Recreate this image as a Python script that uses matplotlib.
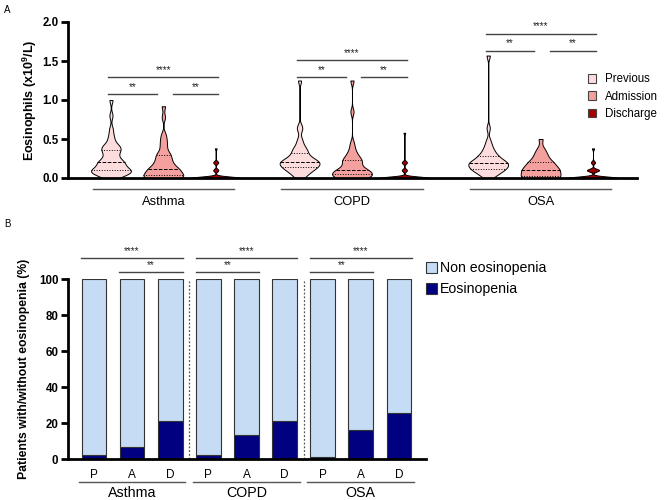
import matplotlib
matplotlib.use("Agg")
import matplotlib.pyplot as plt
import numpy as np

plt.rcParams['font.family'] = ['Liberation Sans', 'DejaVu Sans']
plt.rcParams['mathtext.fontset'] = 'custom'
plt.rcParams['mathtext.bf'] = 'Liberation Sans:bold'

# ---------------- data ----------------
diseases = ["Asthma", "COPD", "OSA"]
timepoints = ["Previous", "Admission", "Discharge"]
tp_short = ["P", "A", "D"]

# panel A: eosinophil counts (x10^9/L)
asthma_prev = [0.0, 0.02, 0.03, 0.05, 0.05, 0.06, 0.07, 0.08, 0.08, 0.09, 0.1, 0.1, 0.1, 0.11,
               0.12, 0.13, 0.15, 0.17, 0.18, 0.2, 0.2, 0.2, 0.21, 0.23, 0.25, 0.28, 0.3, 0.32,
               0.35, 0.36, 0.38, 0.39, 0.4, 0.42, 0.45, 0.5, 0.55, 0.63, 0.8, 1.0]
asthma_adm = [0, 0, 0, 0, 0, 0.01, 0.02, 0.02, 0.03, 0.05, 0.05, 0.06, 0.08, 0.1, 0.1, 0.1,
              0.12, 0.12, 0.13, 0.15, 0.17, 0.2, 0.2, 0.22, 0.25, 0.28, 0.3, 0.3, 0.35, 0.4,
              0.45, 0.5, 0.56, 0.78, 0.92]
asthma_dis = [0] * 30 + [0.1, 0.1, 0.1, 0.2, 0.2, 0.2, 0.38]
copd_prev = [0.0, 0.02, 0.05, 0.07, 0.08, 0.1, 0.1, 0.12, 0.13, 0.14, 0.15, 0.15, 0.16, 0.17,
             0.18, 0.19, 0.2, 0.2, 0.2, 0.21, 0.22, 0.23, 0.24, 0.25, 0.26, 0.28, 0.3, 0.32,
             0.34, 0.36, 0.38, 0.4, 0.45, 0.5, 0.62, 0.66, 1.25]
copd_adm = [0, 0, 0, 0, 0.01, 0.02, 0.03, 0.04, 0.05, 0.05, 0.06, 0.07, 0.08, 0.09, 0.1, 0.1,
            0.11, 0.12, 0.14, 0.17, 0.2, 0.2, 0.22, 0.23, 0.25, 0.27, 0.3, 0.33, 0.38,
            0.45, 0.85, 1.25]
copd_dis = [0] * 30 + [0.1, 0.1, 0.1, 0.2, 0.2, 0.2, 0.58]
osa_prev = [0.0, 0.03, 0.05, 0.07, 0.08, 0.1, 0.1, 0.11, 0.12, 0.13, 0.14, 0.15, 0.16, 0.17,
            0.18, 0.18, 0.19, 0.2, 0.2, 0.21, 0.22, 0.24, 0.25, 0.27, 0.28, 0.3, 0.32, 0.35,
            0.38, 0.42, 0.48, 0.64, 1.57]
osa_adm = [0, 0, 0, 0, 0, 0.01, 0.02, 0.03, 0.05, 0.07, 0.08, 0.1, 0.1, 0.1, 0.1, 0.12, 0.14,
           0.15, 0.17, 0.18, 0.2, 0.2, 0.22, 0.25, 0.28, 0.3, 0.34, 0.38, 0.5]
osa_dis = [0] * 25 + [0.1] * 6 + [0.2] * 2 + [0.38]

violin_data = [asthma_prev, asthma_adm, asthma_dis,
               copd_prev, copd_adm, copd_dis,
               osa_prev, osa_adm, osa_dis]

# panel A significance: (disease, from tp, to tp, label)
sig_a = [(0, 0, 2, "****"), (0, 0, 1, "**"), (0, 1, 2, "**"),
         (1, 0, 2, "****"), (1, 0, 1, "**"), (1, 1, 2, "**"),
         (2, 0, 2, "****"), (2, 0, 1, "**"), (2, 1, 2, "**")]

# panel B: % of patients with eosinopenia
eosinopenia = [2.4, 6.7, 21.2, 2.2, 13.4, 21.3, 1.0, 16.0, 25.8]
non_eosinopenia = [100 - v for v in eosinopenia]
sig_b = [(0, 0, 2, "****"), (0, 1, 2, "**"),
         (1, 0, 2, "****"), (1, 0, 1, "**"),
         (2, 0, 2, "****"), (2, 0, 1, "**")]

# ---------------- style ----------------
violin_colors = ["#fcdcdc", "#f4a09e", "#a80000"]
bar_light = "#c5dcf4"
bar_dark = "#000080"


def kde(vals, grid, bw):
    vals = np.asarray(vals, dtype=float)
    d = np.exp(-0.5 * ((grid[:, None] - vals[None, :]) / bw) ** 2).sum(axis=1)
    return d


fig = plt.figure(figsize=(6.64, 5.0), dpi=100)

# ================= panel A =================
axA = fig.add_axes([68 / 664, 1 - 178 / 500, 569 / 664, 156 / 500])
group_gap = 3.6
positions = []
for g in range(3):
    for t in range(3):
        positions.append(g * group_gap + t)

for i, vals in enumerate(violin_data):
    t = i % 3
    pos = positions[i]
    vals = np.asarray(vals, dtype=float)
    bw = 0.045 if t < 2 else 0.018
    hw = 0.38 if t < 2 else 0.48
    grid = np.linspace(vals.min(), vals.max(), 400)
    d = kde(vals, grid, bw)
    w = d / d.max() * hw
    axA.fill_betweenx(grid, pos - w, pos + w, facecolor=violin_colors[t],
                      edgecolor="black", linewidth=0.7, zorder=2)
    q1, med, q3 = np.percentile(vals, [25, 50, 75])
    for q, ls in [(q1, ":"), (med, "--"), (q3, ":")]:
        wq = np.interp(q, grid, w)
        if wq > 0 and q > 0.005:
            axA.plot([pos - wq, pos + wq], [q, q], color="black", lw=0.7,
                     ls=ls, zorder=3)

axA.set_xlim(-0.82, 2 * group_gap + 2 + 0.84)
axA.set_ylim(0, 2.0)
axA.set_yticks([0, 0.5, 1.0, 1.5, 2.0])
axA.set_yticklabels(["0.0", "0.5", "1.0", "1.5", "2.0"], fontsize=8.3, fontweight="bold")
axA.set_xticks([])
axA.set_ylabel("Eosinophils (x10$^{\\mathbf{9}}$/L)", fontsize=9, fontweight="bold",
               labelpad=2)
for s in ["top", "right"]:
    axA.spines[s].set_visible(False)
axA.spines["left"].set_linewidth(2)
axA.spines["bottom"].set_linewidth(2)
axA.tick_params(axis="y", width=2, length=5, pad=2)

sig_y_a = [[1.295, 1.077], [1.51, 1.295], [1.85, 1.63]]
for g, t0, t1, lab in sig_a:
    x0 = g * group_gap + t0 - 0.05
    x1 = g * group_gap + t1 + 0.05
    if lab == "****":
        y = sig_y_a[g][0]
    else:
        y = sig_y_a[g][1]
        if t0 == 0:
            x1 = g * group_gap + t1 - 0.12
        else:
            x0 = g * group_gap + t0 + 0.18
    axA.plot([x0, x1], [y, y], color="#444444", lw=1, clip_on=False)
    axA.text((x0 + x1) / 2, y + 0.03, lab, ha="center", va="bottom",
             fontsize=7, color="#222222")

for g, name in enumerate(diseases):
    c = g * group_gap + 1
    axA.plot([c - 1.35, c + 1.35], [-0.14, -0.14], color="#555555", lw=1, clip_on=False)
    axA.text(c, -0.31, name, ha="center", va="center", fontsize=9.3)

handles_a = [plt.Rectangle((0, 0), 1, 1, facecolor=c, edgecolor="#444444", lw=0.8)
             for c in violin_colors]
axA.legend(handles_a, timepoints, loc="upper left", bbox_to_anchor=(0.905, 0.7),
           frameon=False, fontsize=8.3, handlelength=0.75, handleheight=0.75,
           handletextpad=0.8, labelspacing=0.45, borderaxespad=0)

# ================= panel B =================
axB = fig.add_axes([68 / 664, 1 - 459 / 500, 358 / 664, 180 / 500])
xb = np.arange(9)
axB.bar(xb, eosinopenia, width=0.65, color=bar_dark, edgecolor="#333333",
        linewidth=0.8, label="Eosinopenia", zorder=2)
axB.bar(xb, non_eosinopenia, width=0.65, bottom=eosinopenia, color=bar_light,
        edgecolor="#333333", linewidth=0.8, label="Non eosinopenia", zorder=2)
axB.set_xlim(-0.68, 8.71)
axB.set_ylim(0, 100)
axB.set_yticks([0, 20, 40, 60, 80, 100])
axB.set_yticklabels(["0", "20", "40", "60", "80", "100"], fontsize=8.3, fontweight="bold")
axB.set_xticks(xb)
axB.set_xticklabels(tp_short * 3, fontsize=8.5)
axB.tick_params(axis="x", length=0, pad=7)
axB.tick_params(axis="y", width=2, length=5, pad=2)
for s in ["top", "right"]:
    axB.spines[s].set_visible(False)
axB.spines["left"].set_linewidth(2)
axB.spines["bottom"].set_linewidth(2)
axB.set_ylabel("Patients with/without eosinopenia (%)", fontsize=8.8, fontweight="bold",
               labelpad=6)

for xs in [2.5, 5.5]:
    axB.plot([xs, xs], [0, 99], color="#555555", lw=0.9, ls=(0, (1.5, 1.5)), zorder=1)

for g, t0, t1, lab in sig_b:
    x0 = g * 3 + t0 - 0.33
    x1 = g * 3 + t1 + 0.33
    y = 111.7 if lab == "****" else 103.9
    axB.plot([x0, x1], [y, y], color="#444444", lw=1, clip_on=False)
    axB.text((x0 + x1) / 2, y + 0.8, lab, ha="center", va="bottom",
             fontsize=7, color="#222222")

for g, name in enumerate(diseases):
    c = g * 3 + 1
    axB.plot([c - 1.4, c + 1.4], [-12.8, -12.8], color="#555555", lw=1, clip_on=False)
    axB.text(c, -19.0, name, ha="center", va="center", fontsize=10.3)

hb = [plt.Rectangle((0, 0), 1, 1, facecolor=bar_light, edgecolor="#333333", lw=0.8),
      plt.Rectangle((0, 0), 1, 1, facecolor=bar_dark, edgecolor="#333333", lw=0.8)]
axB.legend(hb, ["Non eosinopenia", "Eosinopenia"], loc="upper left",
           bbox_to_anchor=(0.985, 1.13), frameon=False, fontsize=10.2,
           handlelength=0.75, handleheight=0.75, handletextpad=0.2,
           labelspacing=0.5, borderaxespad=0)

fig.text(4 / 664, 1 - 10 / 500, "A", fontsize=7, va="center")
fig.text(4 / 664, 1 - 224 / 500, "B", fontsize=7, va="center")

fig.savefig("out.png", dpi=100)
